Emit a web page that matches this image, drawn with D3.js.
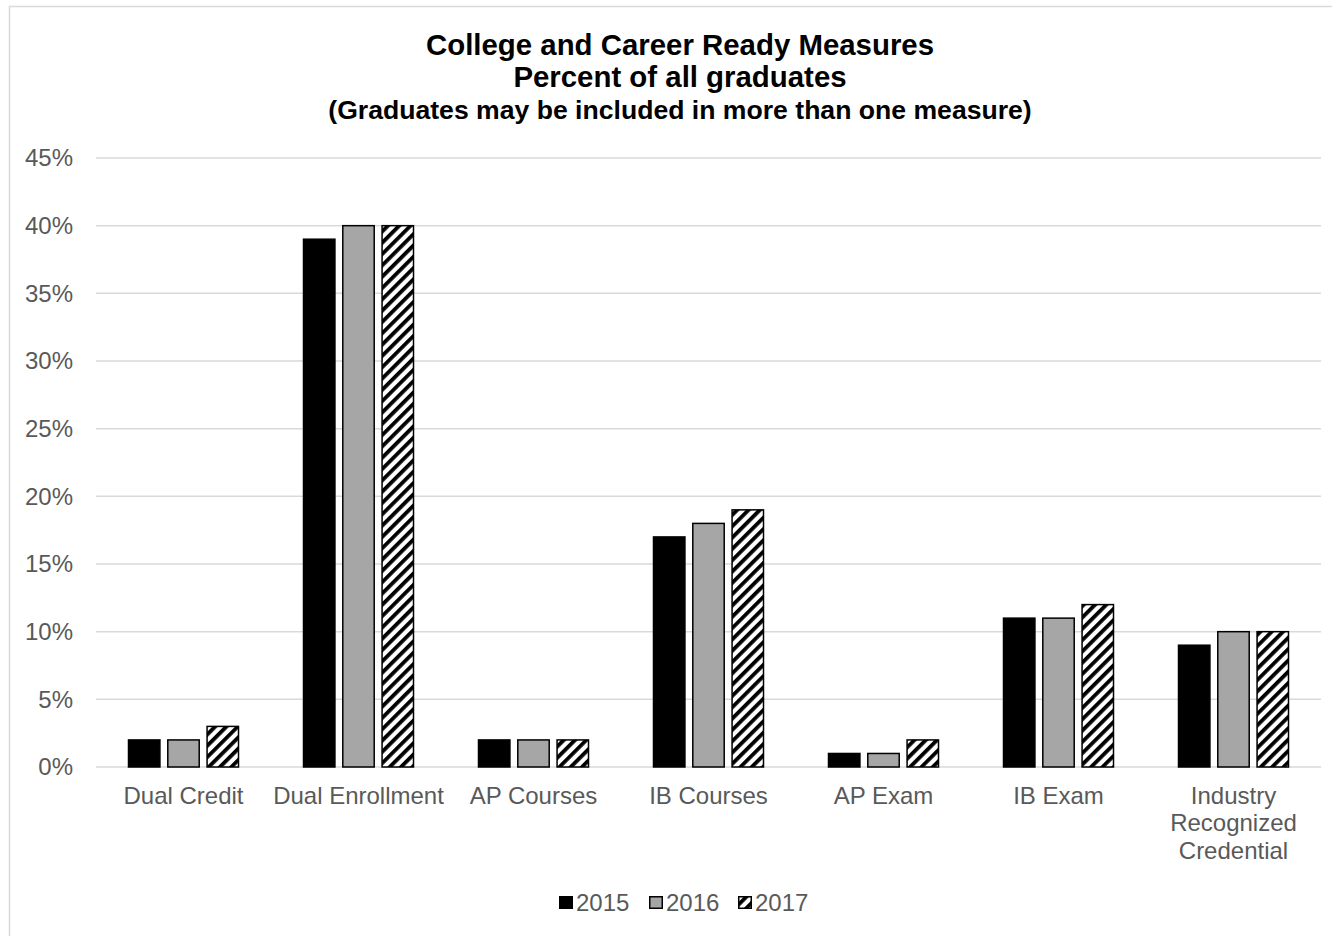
<!DOCTYPE html>
<html><head><meta charset="utf-8">
<script src="https://cdn.jsdelivr.net/npm/d3@7"></script>
<style>body{margin:0;background:#fff;} svg{display:block;}</style>
</head><body>
<svg id="c" width="1332" height="936"></svg>
<script>
const categories = ["Dual Credit","Dual Enrollment","AP Courses","IB Courses","AP Exam","IB Exam","Industry Recognized Credential"];
const categoryLines = [["Dual Credit"],["Dual Enrollment"],["AP Courses"],["IB Courses"],["AP Exam"],["IB Exam"],["Industry","Recognized","Credential"]];
const years = ["2015","2016","2017"];
const values2015 = [2,39,2,17,1,11,9];
const values2016 = [2,40,2,18,1,11,10];
const values2017 = [3,40,2,19,2,12,10];
const yTicks = [0,5,10,15,20,25,30,35,40,45];
const titleLines = ["College and Career Ready Measures","Percent of all graduates","(Graduates may be included in more than one measure)"];

(function(){
const series = [values2015, values2016, values2017];
const svg = d3.select("#c");
const font = "'Liberation Sans', Arial, sans-serif";

const defs = svg.append("defs");
const pat = defs.append("pattern").attr("id","hatch").attr("patternUnits","userSpaceOnUse")
  .attr("width",8).attr("height",8).attr("patternTransform","rotate(45)");
pat.append("rect").attr("width",8).attr("height",8).attr("fill","#fff");
pat.append("rect").attr("x",0).attr("y",0).attr("width",3.8).attr("height",8).attr("fill","#000");

const fills = ["#000000","#a6a6a6","url(#hatch)"];

svg.append("rect").attr("x",9.5).attr("y",6.5).attr("width",1340).attr("height",960)
  .attr("fill","#fff").attr("stroke","#d9d9d9").attr("stroke-width",1.5);

const pLeft = 96, pRight = 1321, pTop = 158, pBottom = 767;
const x0 = d3.scaleBand().domain(categories).range([pLeft,pRight]).padding(0);
const groupW = 110;
const x1 = d3.scaleBand().domain(years).range([0,groupW]).paddingInner(0.2).paddingOuter(0);
const y = d3.scaleLinear().domain([0,45]).range([pBottom,pTop]);

svg.append("g").selectAll("line").data(yTicks).join("line")
  .attr("x1",pLeft).attr("x2",pRight).attr("y1",d=>y(d)).attr("y2",d=>y(d))
  .attr("stroke","#d9d9d9").attr("stroke-width",1.5);

svg.append("g").selectAll("text").data(yTicks).join("text")
  .attr("x",73).attr("y",d=>y(d)).attr("dy","0.35em").attr("text-anchor","end")
  .attr("font-family",font).attr("font-size",24).attr("fill","#595959")
  .text(d=>d+"%");

years.forEach((yr,i)=>{
  svg.append("g").selectAll("rect").data(categories).join("rect")
    .attr("x",(c)=>x0(c)+(x0.bandwidth()-groupW)/2+x1(yr))
    .attr("width",x1.bandwidth())
    .attr("y",(c,j)=>y(series[i][j]))
    .attr("height",(c,j)=>y(0)-y(series[i][j]))
    .attr("fill",fills[i]).attr("stroke","#000").attr("stroke-width",1.5);
});

const xl = svg.append("g").selectAll("text").data(categories).join("text")
  .attr("x",c=>x0(c)+x0.bandwidth()/2).attr("y",803.5).attr("text-anchor","middle")
  .attr("font-family",font).attr("font-size",24).attr("fill","#595959");
xl.each(function(c,i){
  const t = d3.select(this);
  categoryLines[i].forEach((ln,k)=>{
    t.append("tspan").attr("x",x0(c)+x0.bandwidth()/2).attr("dy",k===0?0:27.5).text(ln);
  });
});

svg.append("g").selectAll("text").data(titleLines).join("text")
  .attr("x",680).attr("y",(d,i)=>55+i*32).attr("text-anchor","middle")
  .attr("font-family",font).attr("font-weight","bold")
  .attr("font-size",(d,i)=>i<2?29.4:26.6).attr("fill","#000")
  .text(d=>d);

const legX = [559,649,738];
const lg = svg.append("g");
years.forEach((yr,i)=>{
  lg.append("rect").attr("x",legX[i]+0.75).attr("y",896.75).attr("width",12.5).attr("height",11.5)
    .attr("fill",fills[i]).attr("stroke","#000").attr("stroke-width",1.5);
  lg.append("text").attr("x",legX[i]+17).attr("y",910.5)
    .attr("font-family",font).attr("font-size",24).attr("fill","#595959").text(yr);
});
})();
</script>
</body></html>
